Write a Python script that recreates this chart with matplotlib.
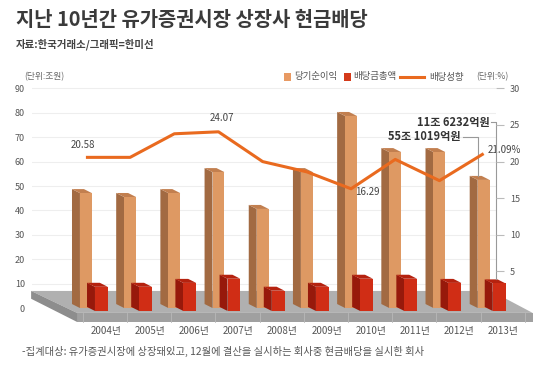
import numpy as np
import matplotlib.pyplot as plt
from matplotlib.patches import Polygon, Rectangle
from matplotlib.lines import Line2D

plt.rcParams['font.family'] = ['Noto Sans CJK KR', 'DejaVu Sans']

#___data___#
years = ["2004년", "2005년", "2006년", "2007년", "2008년", "2009년", "2010년", "2011년", "2012년", "2013년"]
net_profit = [47.1, 45.5, 47.1, 55.7, 40.6, 55.7, 78.7, 63.9, 63.9, 52.5]   # 조원 (bar height as drawn)
dividends = [9.9, 9.9, 11.5, 13.2, 8.3, 9.9, 13.2, 13.2, 11.5, 11.3]       # 조원
payout = [20.58, 20.58, 23.8, 24.07, 20.0, 18.6, 16.29, 20.3, 17.4, 21.09]  # %
point_labels = {0: "20.58", 3: "24.07", 6: "16.29", 9: "21.09%"}
left_ticks = [0, 10, 20, 30, 40, 50, 60, 70, 80, 90]
right_ticks = [5, 10, 15, 20, 25, 30]

#___colours___#
c_org = ("#de9963", "#a26a42", "#c27f4f")    # front, side, top
c_red = ("#d02d15", "#97190b", "#b5220f")
c_line = "#e96a1f"
c_text = "#555555"

x = np.arange(len(years))

fig = plt.figure(figsize=(5.4, 3.66), dpi=100)
ax = fig.add_axes([32/540, 1 - 340/366, 464/540, 256/366])
ax.set_xlim(-1.39, 9.11)
ax.set_ylim(-13.1, 91.8)

for s in ax.spines.values():
    s.set_visible(False)
ax.set_xticks([])
ax.set_yticks(left_ticks)
ax.tick_params(axis="y", length=0, labelsize=6.5, labelcolor=c_text, pad=5)
for t in left_ticks[1:]:
    ax.axhline(t, color="#eeeeee", lw=0.8, zorder=0)

#___grey platform (decoration in data units)___#
back, front, bottom = 7.0, -2.0, -5.7
xl_b, xl_f, xr_b, xr_f = -1.41, -0.37, 9.0, 9.94
ax.add_patch(Polygon([(xl_b, back), (xr_b, back), (xr_f, front), (xl_f, front)],
                     closed=True, fc="#b0b0b0", ec="none", zorder=1, clip_on=False))
ax.add_patch(Polygon([(xl_f, front), (xr_f, front), (xr_f, bottom), (xl_f, bottom)],
                     closed=True, fc="#a0a0a0", ec="none", zorder=1, clip_on=False))
ax.add_patch(Polygon([(xl_b, back), (xl_f, front), (xl_f, bottom), (xl_b, back - 3.2)],
                     closed=True, fc="#8d8d8d", ec="none", zorder=1, clip_on=False))
for i in range(-1, len(years)):
    ax.plot([i + 0.76, i + 0.76], [front, bottom], color="#b8b8b8", lw=0.6, zorder=1, clip_on=False)

#___3d-ish bars: front face via ax.bar, side and top faces as polygons___#
dx, dy = 0.18, 1.64


def bar3d(xc, w, base, h, cols):
    x0 = xc - w / 2
    top = base + h
    ax.add_patch(Polygon([(x0, base), (x0, top), (x0 - dx, top + dy), (x0 - dx, base + dy)],
                         closed=True, fc=cols[1], ec="none", zorder=3, clip_on=False))
    ax.add_patch(Polygon([(x0, top), (x0 + w, top), (x0 + w - dx, top + dy), (x0 - dx, top + dy)],
                         closed=True, fc=cols[2], ec="none", zorder=3, clip_on=False))
    ax.bar(xc, h, width=w, bottom=base, color=cols[0], zorder=3, clip_on=False)


for i in range(len(years)):
    bar3d(x[i] - 0.17, 0.27, 0.0, net_profit[i], c_org)
    bar3d(x[i] + 0.18, 0.29, -1.2, dividends[i], c_red)
    ax.text(x[i] + 0.28, -9.4, years[i], ha="center", va="center", fontsize=7, color=c_text)

#___payout ratio on right axis___#
ax2 = ax.twinx()
ax2.set_ylim(-13.1 / 3, 91.8 / 3)
for s in ax2.spines.values():
    s.set_visible(False)
ax2.set_yticks(right_ticks)
ax2.tick_params(axis="y", length=6, width=0.8, color="#bbbbbb", labelsize=6.5, labelcolor=c_text, pad=4)
ax2.plot(x - 0.17, payout, color=c_line, lw=2.2, solid_capstyle="butt", zorder=5)

ax.text(-0.23, 66.8, point_labels[0], ha="center", va="center", fontsize=7, color="#444444")
ax.text(2.90, 77.9, point_labels[3], ha="center", va="center", fontsize=7, color="#444444")
ax.text(6.19, 47.5, point_labels[6], ha="center", va="center", fontsize=7, color="#444444")
ax.text(8.92, 64.8, point_labels[9], ha="left", va="center", fontsize=7, color="#444444")

#___2013 callouts___#
ax.text(8.32, 70.1, "55조 1019억원", ha="right", va="center", fontsize=8, fontweight="bold", color="#333333")
ax.plot([8.36, 8.70, 8.70], [70.1, 70.1, net_profit[-1] + dy], color="#999999", lw=0.8, zorder=6)
ax.text(8.97, 76.2, "11조 6232억원", ha="right", va="center", fontsize=8, fontweight="bold", color="#333333")
ax.plot([9.0, 9.1, 9.1], [76.2, 76.2, -1.2 + dividends[-1] + dy], color="#999999", lw=0.8,
        zorder=6, clip_on=False)

#___titles___#
fig.text(16/540, 1 - 20/366, "지난 10년간 유가증권시장 상장사 현금배당", fontsize=14.3,
         fontweight="bold", color="#3a3a3a", va="center", ha="left")
fig.text(16/540, 1 - 44/366, "자료:한국거래소/그래픽=한미선", fontsize=7.5, fontweight="bold",
         color="#444444", va="center", ha="left")
fig.text(22/540, 1 - 351/366, "-집계대상: 유가증권시장에 상장돼있고, 12월에 결산을 실시하는 회사중 현금배당을 실시한 회사",
         fontsize=7.4, color=c_text, va="center", ha="left")

#___legend row___#
ly = 1 - 77/366
fig.text(24/540, ly, "(단위:조원)", fontsize=6.3, color="#666666", va="center", ha="left")
fig.patches.append(Rectangle((284/540, ly - 3.5/366), 7/540, 7/366, transform=fig.transFigure,
                             fc="#e89a63", ec="none"))
fig.text(294/540, ly, "당기순이익", fontsize=6.8, color=c_text, va="center", ha="left")
fig.patches.append(Rectangle((344/540, ly - 3.5/366), 7/540, 7/366, transform=fig.transFigure,
                             fc="#d43a1a", ec="none"))
fig.text(353/540, ly, "배당금총액", fontsize=6.8, color=c_text, va="center", ha="left")
fig.lines.append(Line2D([400/540, 424/540], [ly, ly], transform=fig.transFigure, color=c_line, lw=2.2))
fig.text(429/540, ly, "배당성향", fontsize=6.8, color=c_text, va="center", ha="left")
fig.text(476/540, ly, "(단위:%)", fontsize=6.3, color="#666666", va="center", ha="left")

fig.savefig("out.png", dpi=100)
